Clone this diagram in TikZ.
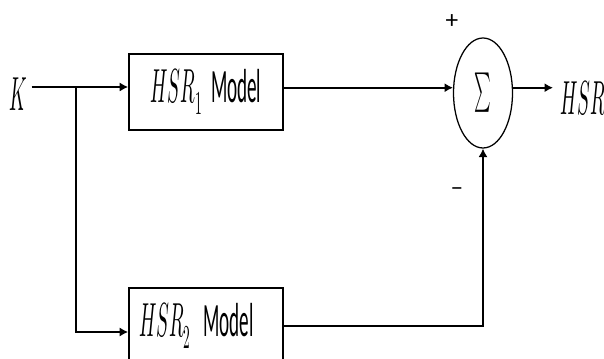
\documentclass[tikz,border=0pt]{standalone}
\usepackage{fontspec}
\usepackage{unicode-math}
\setmainfont{Carlito}
\setmathfont{Latin Modern Math}
\usetikzlibrary{positioning,shapes.geometric,arrows.meta}
\newcommand{\Squeezed}[1]{\scalebox{0.4}[1]{#1}}

\begin{document}
\begin{tikzpicture}[
  >={Latex[length=6pt,width=6.5pt]},
  font=\fontsize{34}{36}\selectfont,
  wire/.style={line width=1.3pt},
  block/.style={draw,line width=1.2pt,minimum width=3.85cm,minimum height=1.9cm,inner sep=0pt},
  summer/.style={draw,ellipse,line width=0.9pt,minimum width=1.475cm,minimum height=2.75cm,inner sep=0pt},
  sign/.style={inner sep=0pt,font=\fontsize{18}{20}\selectfont},
]
  \useasboundingbox (0,0) rectangle (15.1,8.95);
  \clip (0,0) rectangle (15.1,8.95);

  \node (input) at (0.45,6.6) {\Squeezed{$K$}};
  \coordinate (split) at (1.9,6.775);
  \coordinate (low) at (1.9,0.65);

  \node[block] (model1) at (5.15,6.65) {\Squeezed{$HSR_1$\ \ Model}};
  \node[block,text width=3.35cm,align=left] (model2) at (5.15,0.8) {\Squeezed{$HSR_2$\ \ Model}};

  \node[summer] (sum) at (12.075,6.625) {\Squeezed{\fontsize{28}{30}\selectfont$\sum$}};
  \node[anchor=west,inner sep=0pt,inner xsep=0.175cm] (output) at (13.825,6.5) {\Squeezed{$HSR$}};

  \node[sign] (plus) at (11.3,8.4) {+};
  \node[sign] (minus) at (11.425,4.15) {–};

  \draw[wire] (input.east |- split) -- (split);
  \draw[wire,->] (split) -- (model1.west |- split);
  \draw[wire,->] (split) -- (low) -- (low -| model2.west);
  \draw[wire,->] (model1.east |- sum.170) -- (sum.170);
  \draw[wire,->] (sum.10) -- (sum.10 -| output.west);
  \draw[wire,->] (model2.east) -| (sum.south);
\end{tikzpicture}
\end{document}
